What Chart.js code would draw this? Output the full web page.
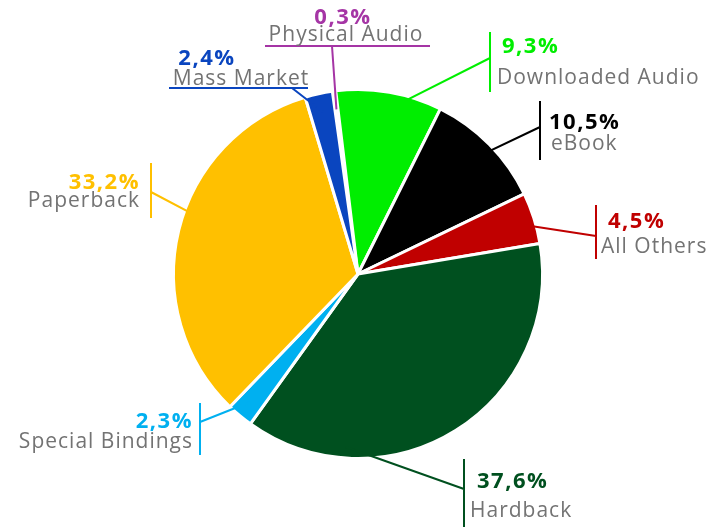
<!DOCTYPE html>
<html>
<head>
<meta charset="utf-8">
<script src="https://cdn.jsdelivr.net/npm/chart.js@4/dist/chart.umd.min.js"></script>
<style>
  html, body { margin: 0; padding: 0; background: #fff; }
</style>
</head>
<body>
<canvas id="pieChart" width="710" height="527"></canvas>
<script>
// Categories, clockwise from the top
const categories = ["Physical Audio", "Downloaded Audio", "eBook", "All Others", "Hardback", "Special Bindings", "Paperback", "Mass Market"];
// Share of sales (%)
const shares = [0.3, 9.3, 10.5, 4.5, 37.6, 2.3, 33.2, 2.4];
// Percent labels as printed
const pct_Labels = ["0,3%", "9,3%", "10,5%", "4,5%", "37,6%", "2,3%", "33,2%", "2,4%"];

const slice_Colors = ["#A535A5", "#00EE00", "#000000", "#C00000", "#00501F", "#00B0F0", "#FFC000", "#0A45BF"];
const label_Gray = "#737373";

// Where each callout sits (text, tick line, leader start, leader end on the slice)
const callouts = [
    { pct: [343, 24, "center"], lab: [346, 41, "center"], hline: [265, 430, 46], from: [332, 46] },
    { pct: [502, 53, "left"], lab: [497, 84, "left"], vline: [490, 32, 92], from: [490, 58] },
    { pct: [549, 129, "left"], lab: [551, 150, "left"], vline: [540, 101, 160], from: [540, 127] },
    { pct: [608, 228, "left"], lab: [601, 253, "left"], vline: [596, 205, 259], from: [596, 236] },
    { pct: [477, 488, "left"], lab: [470, 517, "left"], vline: [464, 459, 527], from: [464, 489], toAngle: 184, toR: 0.94 },
    { pct: [193, 428, "right"], lab: [193, 448, "right"], vline: [200, 403, 455], from: [200, 422] },
    { pct: [140, 189, "right"], lab: [140, 207, "right"], vline: [151, 163, 218], from: [151, 192], toAngle: -70.5, toR: 0.9 },
    { pct: [207, 65, "center"], lab: [241, 85, "center"], hline: [169, 308, 88], from: [292, 88] }
];

// Draw callouts with leader lines
const callout_Plugin = {
    id: "callouts",
    afterDraw(chart) {
        const ctx = chart.ctx;
        const arcs = chart.getDatasetMeta(0).data;
        ctx.save();
        callouts.forEach((c, i) => {
            const arc = arcs[i].getProps(["x", "y", "startAngle", "endAngle", "outerRadius"], true);
            let ang = (arc.startAngle + arc.endAngle) / 2;
            if (c.toAngle !== undefined) ang = (c.toAngle - 90) * Math.PI / 180;
            const rr = arc.outerRadius * (c.toR || 0.9);
            const ex = arc.x + Math.cos(ang) * rr;
            const ey = arc.y + Math.sin(ang) * rr;

            ctx.strokeStyle = slice_Colors[i];
            ctx.lineWidth = 2;
            ctx.beginPath();
            if (c.vline) {
                ctx.moveTo(c.vline[0], c.vline[1]);
                ctx.lineTo(c.vline[0], c.vline[2]);
            } else {
                ctx.moveTo(c.hline[0], c.hline[2]);
                ctx.lineTo(c.hline[1], c.hline[2]);
            }
            ctx.moveTo(c.from[0], c.from[1]);
            ctx.lineTo(ex, ey);
            ctx.stroke();

            ctx.textBaseline = "alphabetic";
            ctx.font = "bold 22px 'Open Sans'";
            ctx.letterSpacing = "1.5px";
            ctx.fillStyle = slice_Colors[i];
            ctx.textAlign = c.pct[2];
            ctx.fillText(pct_Labels[i], c.pct[0], c.pct[1]);

            ctx.font = "21px 'Open Sans'";
            ctx.letterSpacing = "1px";
            ctx.fillStyle = label_Gray;
            ctx.textAlign = c.lab[2];
            ctx.fillText(categories[i], c.lab[0], c.lab[1]);
        });
        ctx.restore();
    }
};

new Chart(document.getElementById("pieChart").getContext("2d"), {
    type: "pie",
    data: {
        labels: categories,
        datasets: [{
            data: shares,
            backgroundColor: slice_Colors,
            borderColor: "#ffffff",
            borderWidth: 3
        }]
    },
    options: {
        responsive: false,
        animation: false,
        rotation: -8,
        layout: { padding: { top: 88, bottom: 67, left: 172, right: 166 } },
        plugins: { legend: { display: false }, tooltip: { enabled: false } }
    },
    plugins: [callout_Plugin]
});
</script>
</body>
</html>
